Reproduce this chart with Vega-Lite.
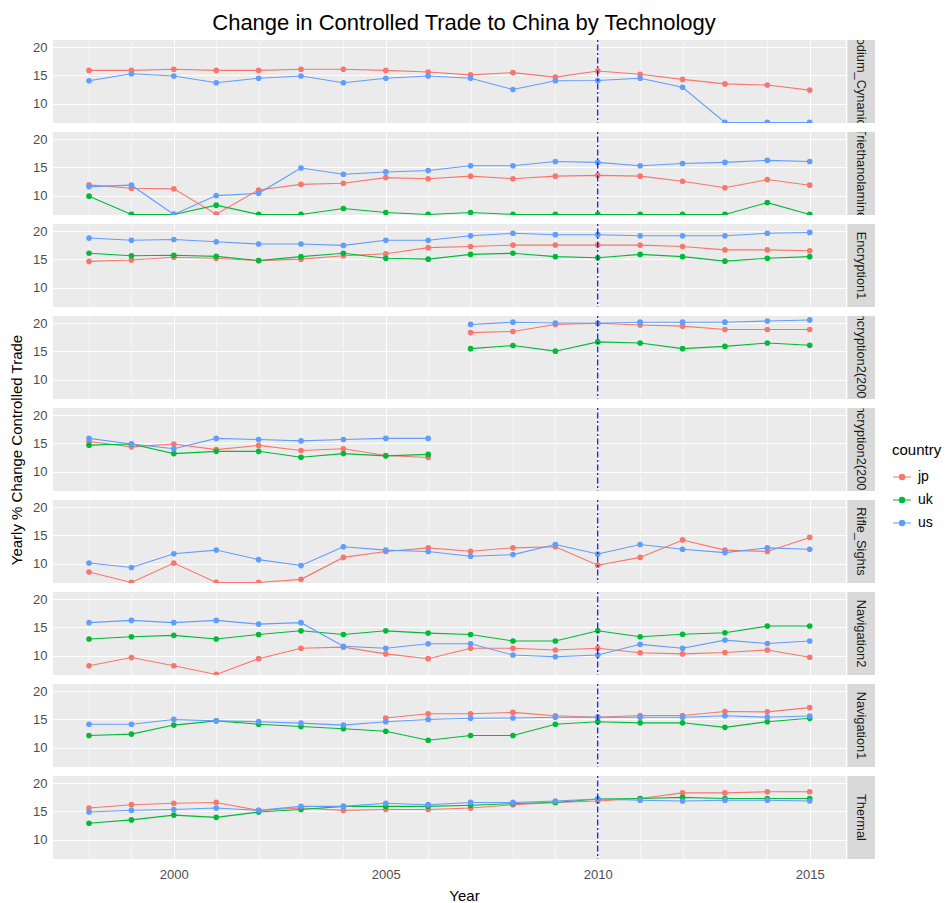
{
  "$schema": "https://vega.github.io/schema/vega-lite/v6.json",
  "background": "white",
  "padding": {"left": 9, "top": 12, "right": 5, "bottom": 5},
  "title": {"text": "Change in Controlled Trade to China by Technology", "fontSize": 22, "fontWeight": "normal", "font": "Liberation Sans", "color": "#000000", "anchor": "middle", "offset": 5, "dx": -12},
  "data": {"values": [
    {"tech":"Sodium_Cynanide","country":"jp","year":1998,"v":15.9},{"tech":"Sodium_Cynanide","country":"jp","year":1999,"v":15.9},{"tech":"Sodium_Cynanide","country":"jp","year":2000,"v":16.1},{"tech":"Sodium_Cynanide","country":"jp","year":2001,"v":15.9},{"tech":"Sodium_Cynanide","country":"jp","year":2002,"v":15.9},{"tech":"Sodium_Cynanide","country":"jp","year":2003,"v":16.1},{"tech":"Sodium_Cynanide","country":"jp","year":2004,"v":16.1},{"tech":"Sodium_Cynanide","country":"jp","year":2005,"v":15.9},{"tech":"Sodium_Cynanide","country":"jp","year":2006,"v":15.6},{"tech":"Sodium_Cynanide","country":"jp","year":2007,"v":15.1},{"tech":"Sodium_Cynanide","country":"jp","year":2008,"v":15.5},{"tech":"Sodium_Cynanide","country":"jp","year":2009,"v":14.7},{"tech":"Sodium_Cynanide","country":"jp","year":2010,"v":15.8},{"tech":"Sodium_Cynanide","country":"jp","year":2011,"v":15.2},{"tech":"Sodium_Cynanide","country":"jp","year":2012,"v":14.3},{"tech":"Sodium_Cynanide","country":"jp","year":2013,"v":13.5},{"tech":"Sodium_Cynanide","country":"jp","year":2014,"v":13.3},{"tech":"Sodium_Cynanide","country":"jp","year":2015,"v":12.4},
    {"tech":"Sodium_Cynanide","country":"us","year":1998,"v":14.05},{"tech":"Sodium_Cynanide","country":"us","year":1999,"v":15.3},{"tech":"Sodium_Cynanide","country":"us","year":2000,"v":14.9},{"tech":"Sodium_Cynanide","country":"us","year":2001,"v":13.7},{"tech":"Sodium_Cynanide","country":"us","year":2002,"v":14.5},{"tech":"Sodium_Cynanide","country":"us","year":2003,"v":14.9},{"tech":"Sodium_Cynanide","country":"us","year":2004,"v":13.7},{"tech":"Sodium_Cynanide","country":"us","year":2005,"v":14.5},{"tech":"Sodium_Cynanide","country":"us","year":2006,"v":14.9},{"tech":"Sodium_Cynanide","country":"us","year":2007,"v":14.5},{"tech":"Sodium_Cynanide","country":"us","year":2008,"v":12.5},{"tech":"Sodium_Cynanide","country":"us","year":2009,"v":14.05},{"tech":"Sodium_Cynanide","country":"us","year":2010,"v":14.1},{"tech":"Sodium_Cynanide","country":"us","year":2011,"v":14.5},{"tech":"Sodium_Cynanide","country":"us","year":2012,"v":12.9},{"tech":"Sodium_Cynanide","country":"us","year":2013,"v":6.65},{"tech":"Sodium_Cynanide","country":"us","year":2014,"v":6.65},{"tech":"Sodium_Cynanide","country":"us","year":2015,"v":6.65},
    {"tech":"Triethanolamine","country":"jp","year":1998,"v":11.9},{"tech":"Triethanolamine","country":"jp","year":1999,"v":11.3},{"tech":"Triethanolamine","country":"jp","year":2000,"v":11.2},{"tech":"Triethanolamine","country":"jp","year":2001,"v":6.7},{"tech":"Triethanolamine","country":"jp","year":2002,"v":11.0},{"tech":"Triethanolamine","country":"jp","year":2003,"v":12.0},{"tech":"Triethanolamine","country":"jp","year":2004,"v":12.2},{"tech":"Triethanolamine","country":"jp","year":2005,"v":13.2},{"tech":"Triethanolamine","country":"jp","year":2006,"v":13.0},{"tech":"Triethanolamine","country":"jp","year":2007,"v":13.45},{"tech":"Triethanolamine","country":"jp","year":2008,"v":13.0},{"tech":"Triethanolamine","country":"jp","year":2009,"v":13.45},{"tech":"Triethanolamine","country":"jp","year":2010,"v":13.6},{"tech":"Triethanolamine","country":"jp","year":2011,"v":13.45},{"tech":"Triethanolamine","country":"jp","year":2012,"v":12.55},{"tech":"Triethanolamine","country":"jp","year":2013,"v":11.4},{"tech":"Triethanolamine","country":"jp","year":2014,"v":12.85},{"tech":"Triethanolamine","country":"jp","year":2015,"v":11.85},
    {"tech":"Triethanolamine","country":"uk","year":1998,"v":9.9},{"tech":"Triethanolamine","country":"uk","year":1999,"v":6.65},{"tech":"Triethanolamine","country":"uk","year":2000,"v":6.65},{"tech":"Triethanolamine","country":"uk","year":2001,"v":8.3},{"tech":"Triethanolamine","country":"uk","year":2002,"v":6.65},{"tech":"Triethanolamine","country":"uk","year":2003,"v":6.65},{"tech":"Triethanolamine","country":"uk","year":2004,"v":7.7},{"tech":"Triethanolamine","country":"uk","year":2005,"v":7.0},{"tech":"Triethanolamine","country":"uk","year":2006,"v":6.65},{"tech":"Triethanolamine","country":"uk","year":2007,"v":7.0},{"tech":"Triethanolamine","country":"uk","year":2008,"v":6.65},{"tech":"Triethanolamine","country":"uk","year":2009,"v":6.65},{"tech":"Triethanolamine","country":"uk","year":2010,"v":6.65},{"tech":"Triethanolamine","country":"uk","year":2011,"v":6.65},{"tech":"Triethanolamine","country":"uk","year":2012,"v":6.65},{"tech":"Triethanolamine","country":"uk","year":2013,"v":6.65},{"tech":"Triethanolamine","country":"uk","year":2014,"v":8.75},{"tech":"Triethanolamine","country":"uk","year":2015,"v":6.65},
    {"tech":"Triethanolamine","country":"us","year":1998,"v":11.6},{"tech":"Triethanolamine","country":"us","year":1999,"v":11.85},{"tech":"Triethanolamine","country":"us","year":2000,"v":6.65},{"tech":"Triethanolamine","country":"us","year":2001,"v":10.0},{"tech":"Triethanolamine","country":"us","year":2002,"v":10.4},{"tech":"Triethanolamine","country":"us","year":2003,"v":14.9},{"tech":"Triethanolamine","country":"us","year":2004,"v":13.8},{"tech":"Triethanolamine","country":"us","year":2005,"v":14.2},{"tech":"Triethanolamine","country":"us","year":2006,"v":14.45},{"tech":"Triethanolamine","country":"us","year":2007,"v":15.3},{"tech":"Triethanolamine","country":"us","year":2008,"v":15.3},{"tech":"Triethanolamine","country":"us","year":2009,"v":16.05},{"tech":"Triethanolamine","country":"us","year":2010,"v":15.9},{"tech":"Triethanolamine","country":"us","year":2011,"v":15.3},{"tech":"Triethanolamine","country":"us","year":2012,"v":15.7},{"tech":"Triethanolamine","country":"us","year":2013,"v":15.9},{"tech":"Triethanolamine","country":"us","year":2014,"v":16.25},{"tech":"Triethanolamine","country":"us","year":2015,"v":16.05},
    {"tech":"Encryption1","country":"jp","year":1998,"v":14.65},{"tech":"Encryption1","country":"jp","year":1999,"v":14.9},{"tech":"Encryption1","country":"jp","year":2000,"v":15.4},{"tech":"Encryption1","country":"jp","year":2001,"v":15.2},{"tech":"Encryption1","country":"jp","year":2002,"v":14.8},{"tech":"Encryption1","country":"jp","year":2003,"v":15.05},{"tech":"Encryption1","country":"jp","year":2004,"v":15.65},{"tech":"Encryption1","country":"jp","year":2005,"v":16.0},{"tech":"Encryption1","country":"jp","year":2006,"v":17.1},{"tech":"Encryption1","country":"jp","year":2007,"v":17.3},{"tech":"Encryption1","country":"jp","year":2008,"v":17.55},{"tech":"Encryption1","country":"jp","year":2009,"v":17.55},{"tech":"Encryption1","country":"jp","year":2010,"v":17.55},{"tech":"Encryption1","country":"jp","year":2011,"v":17.55},{"tech":"Encryption1","country":"jp","year":2012,"v":17.3},{"tech":"Encryption1","country":"jp","year":2013,"v":16.7},{"tech":"Encryption1","country":"jp","year":2014,"v":16.7},{"tech":"Encryption1","country":"jp","year":2015,"v":16.55},
    {"tech":"Encryption1","country":"uk","year":1998,"v":16.1},{"tech":"Encryption1","country":"uk","year":1999,"v":15.65},{"tech":"Encryption1","country":"uk","year":2000,"v":15.75},{"tech":"Encryption1","country":"uk","year":2001,"v":15.55},{"tech":"Encryption1","country":"uk","year":2002,"v":14.8},{"tech":"Encryption1","country":"uk","year":2003,"v":15.5},{"tech":"Encryption1","country":"uk","year":2004,"v":16.1},{"tech":"Encryption1","country":"uk","year":2005,"v":15.2},{"tech":"Encryption1","country":"uk","year":2006,"v":15.05},{"tech":"Encryption1","country":"uk","year":2007,"v":15.9},{"tech":"Encryption1","country":"uk","year":2008,"v":16.1},{"tech":"Encryption1","country":"uk","year":2009,"v":15.5},{"tech":"Encryption1","country":"uk","year":2010,"v":15.3},{"tech":"Encryption1","country":"uk","year":2011,"v":15.9},{"tech":"Encryption1","country":"uk","year":2012,"v":15.5},{"tech":"Encryption1","country":"uk","year":2013,"v":14.7},{"tech":"Encryption1","country":"uk","year":2014,"v":15.2},{"tech":"Encryption1","country":"uk","year":2015,"v":15.5},
    {"tech":"Encryption1","country":"us","year":1998,"v":18.8},{"tech":"Encryption1","country":"us","year":1999,"v":18.4},{"tech":"Encryption1","country":"us","year":2000,"v":18.55},{"tech":"Encryption1","country":"us","year":2001,"v":18.15},{"tech":"Encryption1","country":"us","year":2002,"v":17.75},{"tech":"Encryption1","country":"us","year":2003,"v":17.75},{"tech":"Encryption1","country":"us","year":2004,"v":17.5},{"tech":"Encryption1","country":"us","year":2005,"v":18.4},{"tech":"Encryption1","country":"us","year":2006,"v":18.4},{"tech":"Encryption1","country":"us","year":2007,"v":19.2},{"tech":"Encryption1","country":"us","year":2008,"v":19.65},{"tech":"Encryption1","country":"us","year":2009,"v":19.4},{"tech":"Encryption1","country":"us","year":2010,"v":19.4},{"tech":"Encryption1","country":"us","year":2011,"v":19.2},{"tech":"Encryption1","country":"us","year":2012,"v":19.2},{"tech":"Encryption1","country":"us","year":2013,"v":19.2},{"tech":"Encryption1","country":"us","year":2014,"v":19.65},{"tech":"Encryption1","country":"us","year":2015,"v":19.8},
    {"tech":"Encryption2(2007)","country":"jp","year":2007,"v":18.35},{"tech":"Encryption2(2007)","country":"jp","year":2008,"v":18.55},{"tech":"Encryption2(2007)","country":"jp","year":2009,"v":19.8},{"tech":"Encryption2(2007)","country":"jp","year":2010,"v":20.0},{"tech":"Encryption2(2007)","country":"jp","year":2011,"v":19.7},{"tech":"Encryption2(2007)","country":"jp","year":2012,"v":19.5},{"tech":"Encryption2(2007)","country":"jp","year":2013,"v":18.9},{"tech":"Encryption2(2007)","country":"jp","year":2014,"v":18.9},{"tech":"Encryption2(2007)","country":"jp","year":2015,"v":18.9},
    {"tech":"Encryption2(2007)","country":"uk","year":2007,"v":15.5},{"tech":"Encryption2(2007)","country":"uk","year":2008,"v":16.05},{"tech":"Encryption2(2007)","country":"uk","year":2009,"v":15.05},{"tech":"Encryption2(2007)","country":"uk","year":2010,"v":16.7},{"tech":"Encryption2(2007)","country":"uk","year":2011,"v":16.5},{"tech":"Encryption2(2007)","country":"uk","year":2012,"v":15.5},{"tech":"Encryption2(2007)","country":"uk","year":2013,"v":15.9},{"tech":"Encryption2(2007)","country":"uk","year":2014,"v":16.5},{"tech":"Encryption2(2007)","country":"uk","year":2015,"v":16.1},
    {"tech":"Encryption2(2007)","country":"us","year":2007,"v":19.8},{"tech":"Encryption2(2007)","country":"us","year":2008,"v":20.2},{"tech":"Encryption2(2007)","country":"us","year":2009,"v":20.05},{"tech":"Encryption2(2007)","country":"us","year":2010,"v":20.0},{"tech":"Encryption2(2007)","country":"us","year":2011,"v":20.2},{"tech":"Encryption2(2007)","country":"us","year":2012,"v":20.2},{"tech":"Encryption2(2007)","country":"us","year":2013,"v":20.2},{"tech":"Encryption2(2007)","country":"us","year":2014,"v":20.4},{"tech":"Encryption2(2007)","country":"us","year":2015,"v":20.6},
    {"tech":"Encryption2(2006)","country":"jp","year":1998,"v":15.35},{"tech":"Encryption2(2006)","country":"jp","year":1999,"v":14.4},{"tech":"Encryption2(2006)","country":"jp","year":2000,"v":14.9},{"tech":"Encryption2(2006)","country":"jp","year":2001,"v":13.9},{"tech":"Encryption2(2006)","country":"jp","year":2002,"v":14.65},{"tech":"Encryption2(2006)","country":"jp","year":2003,"v":13.75},{"tech":"Encryption2(2006)","country":"jp","year":2004,"v":14.05},{"tech":"Encryption2(2006)","country":"jp","year":2005,"v":12.85},{"tech":"Encryption2(2006)","country":"jp","year":2006,"v":12.5},
    {"tech":"Encryption2(2006)","country":"uk","year":1998,"v":14.7},{"tech":"Encryption2(2006)","country":"uk","year":1999,"v":14.9},{"tech":"Encryption2(2006)","country":"uk","year":2000,"v":13.2},{"tech":"Encryption2(2006)","country":"uk","year":2001,"v":13.6},{"tech":"Encryption2(2006)","country":"uk","year":2002,"v":13.6},{"tech":"Encryption2(2006)","country":"uk","year":2003,"v":12.55},{"tech":"Encryption2(2006)","country":"uk","year":2004,"v":13.2},{"tech":"Encryption2(2006)","country":"uk","year":2005,"v":12.8},{"tech":"Encryption2(2006)","country":"uk","year":2006,"v":13.05},
    {"tech":"Encryption2(2006)","country":"us","year":1998,"v":15.9},{"tech":"Encryption2(2006)","country":"us","year":1999,"v":14.9},{"tech":"Encryption2(2006)","country":"us","year":2000,"v":14.05},{"tech":"Encryption2(2006)","country":"us","year":2001,"v":15.9},{"tech":"Encryption2(2006)","country":"us","year":2002,"v":15.7},{"tech":"Encryption2(2006)","country":"us","year":2003,"v":15.45},{"tech":"Encryption2(2006)","country":"us","year":2004,"v":15.7},{"tech":"Encryption2(2006)","country":"us","year":2005,"v":15.9},{"tech":"Encryption2(2006)","country":"us","year":2006,"v":15.9},
    {"tech":"Rifle_Sights","country":"jp","year":1998,"v":8.5},{"tech":"Rifle_Sights","country":"jp","year":1999,"v":6.65},{"tech":"Rifle_Sights","country":"jp","year":2000,"v":10.1},{"tech":"Rifle_Sights","country":"jp","year":2001,"v":6.65},{"tech":"Rifle_Sights","country":"jp","year":2002,"v":6.65},{"tech":"Rifle_Sights","country":"jp","year":2003,"v":7.2},{"tech":"Rifle_Sights","country":"jp","year":2004,"v":11.1},{"tech":"Rifle_Sights","country":"jp","year":2005,"v":12.15},{"tech":"Rifle_Sights","country":"jp","year":2006,"v":12.8},{"tech":"Rifle_Sights","country":"jp","year":2007,"v":12.2},{"tech":"Rifle_Sights","country":"jp","year":2008,"v":12.8},{"tech":"Rifle_Sights","country":"jp","year":2009,"v":13.0},{"tech":"Rifle_Sights","country":"jp","year":2010,"v":9.7},{"tech":"Rifle_Sights","country":"jp","year":2011,"v":11.1},{"tech":"Rifle_Sights","country":"jp","year":2012,"v":14.2},{"tech":"Rifle_Sights","country":"jp","year":2013,"v":12.4},{"tech":"Rifle_Sights","country":"jp","year":2014,"v":12.15},{"tech":"Rifle_Sights","country":"jp","year":2015,"v":14.65},
    {"tech":"Rifle_Sights","country":"us","year":1998,"v":10.1},{"tech":"Rifle_Sights","country":"us","year":1999,"v":9.3},{"tech":"Rifle_Sights","country":"us","year":2000,"v":11.75},{"tech":"Rifle_Sights","country":"us","year":2001,"v":12.4},{"tech":"Rifle_Sights","country":"us","year":2002,"v":10.7},{"tech":"Rifle_Sights","country":"us","year":2003,"v":9.65},{"tech":"Rifle_Sights","country":"us","year":2004,"v":13.0},{"tech":"Rifle_Sights","country":"us","year":2005,"v":12.4},{"tech":"Rifle_Sights","country":"us","year":2006,"v":12.15},{"tech":"Rifle_Sights","country":"us","year":2007,"v":11.3},{"tech":"Rifle_Sights","country":"us","year":2008,"v":11.6},{"tech":"Rifle_Sights","country":"us","year":2009,"v":13.4},{"tech":"Rifle_Sights","country":"us","year":2010,"v":11.7},{"tech":"Rifle_Sights","country":"us","year":2011,"v":13.4},{"tech":"Rifle_Sights","country":"us","year":2012,"v":12.55},{"tech":"Rifle_Sights","country":"us","year":2013,"v":11.95},{"tech":"Rifle_Sights","country":"us","year":2014,"v":12.8},{"tech":"Rifle_Sights","country":"us","year":2015,"v":12.55},
    {"tech":"Navigation2","country":"jp","year":1998,"v":8.2},{"tech":"Navigation2","country":"jp","year":1999,"v":9.65},{"tech":"Navigation2","country":"jp","year":2000,"v":8.2},{"tech":"Navigation2","country":"jp","year":2001,"v":6.65},{"tech":"Navigation2","country":"jp","year":2002,"v":9.45},{"tech":"Navigation2","country":"jp","year":2003,"v":11.3},{"tech":"Navigation2","country":"jp","year":2004,"v":11.5},{"tech":"Navigation2","country":"jp","year":2005,"v":10.3},{"tech":"Navigation2","country":"jp","year":2006,"v":9.45},{"tech":"Navigation2","country":"jp","year":2007,"v":11.3},{"tech":"Navigation2","country":"jp","year":2008,"v":11.3},{"tech":"Navigation2","country":"jp","year":2009,"v":11.0},{"tech":"Navigation2","country":"jp","year":2010,"v":11.3},{"tech":"Navigation2","country":"jp","year":2011,"v":10.5},{"tech":"Navigation2","country":"jp","year":2012,"v":10.3},{"tech":"Navigation2","country":"jp","year":2013,"v":10.55},{"tech":"Navigation2","country":"jp","year":2014,"v":11.0},{"tech":"Navigation2","country":"jp","year":2015,"v":9.7},
    {"tech":"Navigation2","country":"uk","year":1998,"v":12.95},{"tech":"Navigation2","country":"uk","year":1999,"v":13.35},{"tech":"Navigation2","country":"uk","year":2000,"v":13.6},{"tech":"Navigation2","country":"uk","year":2001,"v":12.95},{"tech":"Navigation2","country":"uk","year":2002,"v":13.75},{"tech":"Navigation2","country":"uk","year":2003,"v":14.4},{"tech":"Navigation2","country":"uk","year":2004,"v":13.75},{"tech":"Navigation2","country":"uk","year":2005,"v":14.4},{"tech":"Navigation2","country":"uk","year":2006,"v":14.0},{"tech":"Navigation2","country":"uk","year":2007,"v":13.75},{"tech":"Navigation2","country":"uk","year":2008,"v":12.6},{"tech":"Navigation2","country":"uk","year":2009,"v":12.6},{"tech":"Navigation2","country":"uk","year":2010,"v":14.4},{"tech":"Navigation2","country":"uk","year":2011,"v":13.35},{"tech":"Navigation2","country":"uk","year":2012,"v":13.8},{"tech":"Navigation2","country":"uk","year":2013,"v":14.05},{"tech":"Navigation2","country":"uk","year":2014,"v":15.25},{"tech":"Navigation2","country":"uk","year":2015,"v":15.25},
    {"tech":"Navigation2","country":"us","year":1998,"v":15.85},{"tech":"Navigation2","country":"us","year":1999,"v":16.25},{"tech":"Navigation2","country":"us","year":2000,"v":15.85},{"tech":"Navigation2","country":"us","year":2001,"v":16.25},{"tech":"Navigation2","country":"us","year":2002,"v":15.6},{"tech":"Navigation2","country":"us","year":2003,"v":15.85},{"tech":"Navigation2","country":"us","year":2004,"v":11.65},{"tech":"Navigation2","country":"us","year":2005,"v":11.3},{"tech":"Navigation2","country":"us","year":2006,"v":12.1},{"tech":"Navigation2","country":"us","year":2007,"v":12.1},{"tech":"Navigation2","country":"us","year":2008,"v":10.1},{"tech":"Navigation2","country":"us","year":2009,"v":9.8},{"tech":"Navigation2","country":"us","year":2010,"v":10.1},{"tech":"Navigation2","country":"us","year":2011,"v":12.0},{"tech":"Navigation2","country":"us","year":2012,"v":11.3},{"tech":"Navigation2","country":"us","year":2013,"v":12.75},{"tech":"Navigation2","country":"us","year":2014,"v":12.15},{"tech":"Navigation2","country":"us","year":2015,"v":12.6},
    {"tech":"Navigation1","country":"jp","year":2005,"v":15.25},{"tech":"Navigation1","country":"jp","year":2006,"v":16.0},{"tech":"Navigation1","country":"jp","year":2007,"v":16.0},{"tech":"Navigation1","country":"jp","year":2008,"v":16.25},{"tech":"Navigation1","country":"jp","year":2009,"v":15.65},{"tech":"Navigation1","country":"jp","year":2010,"v":15.4},{"tech":"Navigation1","country":"jp","year":2011,"v":15.7},{"tech":"Navigation1","country":"jp","year":2012,"v":15.7},{"tech":"Navigation1","country":"jp","year":2013,"v":16.4},{"tech":"Navigation1","country":"jp","year":2014,"v":16.35},{"tech":"Navigation1","country":"jp","year":2015,"v":17.1},
    {"tech":"Navigation1","country":"uk","year":1998,"v":12.15},{"tech":"Navigation1","country":"uk","year":1999,"v":12.4},{"tech":"Navigation1","country":"uk","year":2000,"v":14.0},{"tech":"Navigation1","country":"uk","year":2001,"v":14.75},{"tech":"Navigation1","country":"uk","year":2002,"v":14.15},{"tech":"Navigation1","country":"uk","year":2003,"v":13.75},{"tech":"Navigation1","country":"uk","year":2004,"v":13.35},{"tech":"Navigation1","country":"uk","year":2005,"v":12.9},{"tech":"Navigation1","country":"uk","year":2006,"v":11.3},{"tech":"Navigation1","country":"uk","year":2007,"v":12.15},{"tech":"Navigation1","country":"uk","year":2008,"v":12.15},{"tech":"Navigation1","country":"uk","year":2009,"v":14.15},{"tech":"Navigation1","country":"uk","year":2010,"v":14.6},{"tech":"Navigation1","country":"uk","year":2011,"v":14.4},{"tech":"Navigation1","country":"uk","year":2012,"v":14.4},{"tech":"Navigation1","country":"uk","year":2013,"v":13.6},{"tech":"Navigation1","country":"uk","year":2014,"v":14.6},{"tech":"Navigation1","country":"uk","year":2015,"v":15.2},
    {"tech":"Navigation1","country":"us","year":1998,"v":14.15},{"tech":"Navigation1","country":"us","year":1999,"v":14.15},{"tech":"Navigation1","country":"us","year":2000,"v":15.0},{"tech":"Navigation1","country":"us","year":2001,"v":14.75},{"tech":"Navigation1","country":"us","year":2002,"v":14.6},{"tech":"Navigation1","country":"us","year":2003,"v":14.35},{"tech":"Navigation1","country":"us","year":2004,"v":14.0},{"tech":"Navigation1","country":"us","year":2005,"v":14.6},{"tech":"Navigation1","country":"us","year":2006,"v":15.0},{"tech":"Navigation1","country":"us","year":2007,"v":15.2},{"tech":"Navigation1","country":"us","year":2008,"v":15.25},{"tech":"Navigation1","country":"us","year":2009,"v":15.4},{"tech":"Navigation1","country":"us","year":2010,"v":15.4},{"tech":"Navigation1","country":"us","year":2011,"v":15.4},{"tech":"Navigation1","country":"us","year":2012,"v":15.4},{"tech":"Navigation1","country":"us","year":2013,"v":15.65},{"tech":"Navigation1","country":"us","year":2014,"v":15.4},{"tech":"Navigation1","country":"us","year":2015,"v":15.6},
    {"tech":"Thermal","country":"jp","year":1998,"v":15.6},{"tech":"Thermal","country":"jp","year":1999,"v":16.2},{"tech":"Thermal","country":"jp","year":2000,"v":16.45},{"tech":"Thermal","country":"jp","year":2001,"v":16.6},{"tech":"Thermal","country":"jp","year":2002,"v":15.2},{"tech":"Thermal","country":"jp","year":2003,"v":15.6},{"tech":"Thermal","country":"jp","year":2004,"v":15.2},{"tech":"Thermal","country":"jp","year":2005,"v":15.35},{"tech":"Thermal","country":"jp","year":2006,"v":15.35},{"tech":"Thermal","country":"jp","year":2007,"v":15.6},{"tech":"Thermal","country":"jp","year":2008,"v":16.2},{"tech":"Thermal","country":"jp","year":2009,"v":16.6},{"tech":"Thermal","country":"jp","year":2010,"v":16.85},{"tech":"Thermal","country":"jp","year":2011,"v":17.3},{"tech":"Thermal","country":"jp","year":2012,"v":18.3},{"tech":"Thermal","country":"jp","year":2013,"v":18.3},{"tech":"Thermal","country":"jp","year":2014,"v":18.5},{"tech":"Thermal","country":"jp","year":2015,"v":18.5},
    {"tech":"Thermal","country":"uk","year":1998,"v":12.9},{"tech":"Thermal","country":"uk","year":1999,"v":13.5},{"tech":"Thermal","country":"uk","year":2000,"v":14.35},{"tech":"Thermal","country":"uk","year":2001,"v":13.95},{"tech":"Thermal","country":"uk","year":2002,"v":14.9},{"tech":"Thermal","country":"uk","year":2003,"v":15.35},{"tech":"Thermal","country":"uk","year":2004,"v":15.9},{"tech":"Thermal","country":"uk","year":2005,"v":15.9},{"tech":"Thermal","country":"uk","year":2006,"v":15.9},{"tech":"Thermal","country":"uk","year":2007,"v":16.1},{"tech":"Thermal","country":"uk","year":2008,"v":16.4},{"tech":"Thermal","country":"uk","year":2009,"v":16.6},{"tech":"Thermal","country":"uk","year":2010,"v":17.2},{"tech":"Thermal","country":"uk","year":2011,"v":17.3},{"tech":"Thermal","country":"uk","year":2012,"v":17.5},{"tech":"Thermal","country":"uk","year":2013,"v":17.3},{"tech":"Thermal","country":"uk","year":2014,"v":17.3},{"tech":"Thermal","country":"uk","year":2015,"v":17.3},
    {"tech":"Thermal","country":"us","year":1998,"v":14.9},{"tech":"Thermal","country":"us","year":1999,"v":15.2},{"tech":"Thermal","country":"us","year":2000,"v":15.35},{"tech":"Thermal","country":"us","year":2001,"v":15.6},{"tech":"Thermal","country":"us","year":2002,"v":15.2},{"tech":"Thermal","country":"us","year":2003,"v":15.9},{"tech":"Thermal","country":"us","year":2004,"v":15.9},{"tech":"Thermal","country":"us","year":2005,"v":16.45},{"tech":"Thermal","country":"us","year":2006,"v":16.2},{"tech":"Thermal","country":"us","year":2007,"v":16.6},{"tech":"Thermal","country":"us","year":2008,"v":16.6},{"tech":"Thermal","country":"us","year":2009,"v":16.85},{"tech":"Thermal","country":"us","year":2010,"v":17.2},{"tech":"Thermal","country":"us","year":2011,"v":17.0},{"tech":"Thermal","country":"us","year":2012,"v":16.85},{"tech":"Thermal","country":"us","year":2013,"v":17.0},{"tech":"Thermal","country":"us","year":2014,"v":17.0},{"tech":"Thermal","country":"us","year":2015,"v":16.85}
  ]},
  "facet": {"row": {"field": "tech", "type": "nominal", "title": "Yearly % Change Controlled Trade",
    "sort": ["Sodium_Cynanide","Triethanolamine","Encryption1","Encryption2(2007)","Encryption2(2006)","Rifle_Sights","Navigation2","Navigation1","Thermal"],
    "header": {"labels": false, "labelPadding": 0, "titleOrient": "left", "titleFontSize": 15, "titleFontWeight": "normal", "titleColor": "#000000", "titleFont": "Liberation Sans", "titlePadding": -3}}},
  "spacing": 9,
  "spec": {
    "width": 822,
    "height": 83,
    "layer": [
      {"mark": {"type": "line", "strokeWidth": 1.1, "clip": true},
       "encoding": {
         "x": {"field": "year", "type": "quantitative", "scale": {"domain": [1997.15, 2016.54], "nice": false, "zero": false}, "title": "Year"},
         "y": {"field": "v", "type": "quantitative", "scale": {"domain": [6.55, 21.3], "nice": false, "zero": false}, "title": null},
         "color": {"field": "country", "type": "nominal", "scale": {"domain": ["jp","uk","us"], "range": ["#F8766D","#00BA38","#619CFF"]},
           "legend": {"title": "country", "orient": "none", "legendX": 839, "legendY": 403}}
       }},
      {"mark": {"type": "point", "filled": true, "size": 32, "opacity": 1, "clip": true},
       "encoding": {
         "x": {"field": "year", "type": "quantitative"},
         "y": {"field": "v", "type": "quantitative"},
         "color": {"field": "country", "type": "nominal"}
       }},
      {"transform": [{"aggregate": [{"op": "count", "as": "n"}], "groupby": ["tech"]}],
       "mark": {"type": "rule", "color": "#0000FF", "strokeWidth": 1.2, "strokeDash": [2, 2.5, 6, 2.5], "clip": true},
       "encoding": {"x": {"datum": 2010}}},
      {"transform": [{"aggregate": [{"op": "count", "as": "n"}], "groupby": ["tech"]}],
       "mark": {"type": "rect", "color": "#FFFFFF", "clip": true},
       "encoding": {"x": {"datum": 2015.85}, "x2": {"datum": 2015.89}, "y": {"datum": 0}, "y2": {"datum": 30}}},
      {"transform": [{"aggregate": [{"op": "count", "as": "n"}], "groupby": ["tech"]}],
       "mark": {"type": "rect", "color": "#D9D9D9", "clip": true},
       "encoding": {"x": {"datum": 2015.89}, "x2": {"datum": 2017}, "y": {"datum": 0}, "y2": {"datum": 30}}},
      {"transform": [{"aggregate": [{"op": "count", "as": "n"}], "groupby": ["tech"]}],
       "mark": {"type": "text", "angle": 90, "align": "center", "baseline": "middle", "fontSize": 12.8, "font": "Liberation Sans", "color": "#1A1A1A", "clip": true},
       "encoding": {"x": {"datum": 2016.22}, "y": {"datum": 13.925}, "text": {"field": "tech"}}}
    ]
  },
  "config": {
    "font": "Liberation Sans",
    "view": {"fill": "#EBEBEB", "stroke": null},
    "axisX": {
      "values": [1997.5, 2000, 2002.5, 2005, 2007.5, 2010, 2012.5, 2015],
      "format": "d",
      "labelExpr": "datum.value % 5 === 0 ? datum.label : ''",
      "domain": false,
      "grid": true,
      "gridColor": "#FFFFFF",
      "gridWidth": {"condition": {"test": "datum.value % 5 === 0", "value": 1.1}, "value": 0.5},
      "tickColor": "#333333",
      "tickOpacity": {"condition": {"test": "datum.value % 5 === 0", "value": 1}, "value": 0},
      "tickSize": 4,
      "labelColor": "#4D4D4D",
      "labelFontSize": 13,
      "labelPadding": 5,
      "titleFontSize": 15,
      "titleFontWeight": "normal",
      "titleColor": "#000000",
      "titlePadding": 7
    },
    "axisY": {
      "values": [7.5, 10, 12.5, 15, 17.5, 20],
      "labelExpr": "datum.value % 5 === 0 ? datum.label : ''",
      "domain": false,
      "grid": true,
      "gridColor": "#FFFFFF",
      "gridWidth": {"condition": {"test": "datum.value % 5 === 0", "value": 1.1}, "value": 0.5},
      "tickColor": "#333333",
      "tickOpacity": {"condition": {"test": "datum.value % 5 === 0", "value": 1}, "value": 0},
      "tickSize": 4,
      "labelColor": "#4D4D4D",
      "labelFontSize": 13,
      "labelPadding": 2
    },
    "legend": {
      "titleFontSize": 15,
      "titleFontWeight": "normal",
      "titleColor": "#000000",
      "titlePadding": 9,
      "labelFontSize": 14,
      "labelColor": "#000000",
      "labelOffset": 6,
      "symbolType": "M-1,0H1M-0.3,0A0.3,0.3,0,1,1,0.3,0A0.3,0.3,0,1,1,-0.3,0Z",
      "symbolSize": 324,
      "symbolStrokeWidth": 1.1,
      "rowPadding": 6,
      "padding": 0
    }
  }
}
